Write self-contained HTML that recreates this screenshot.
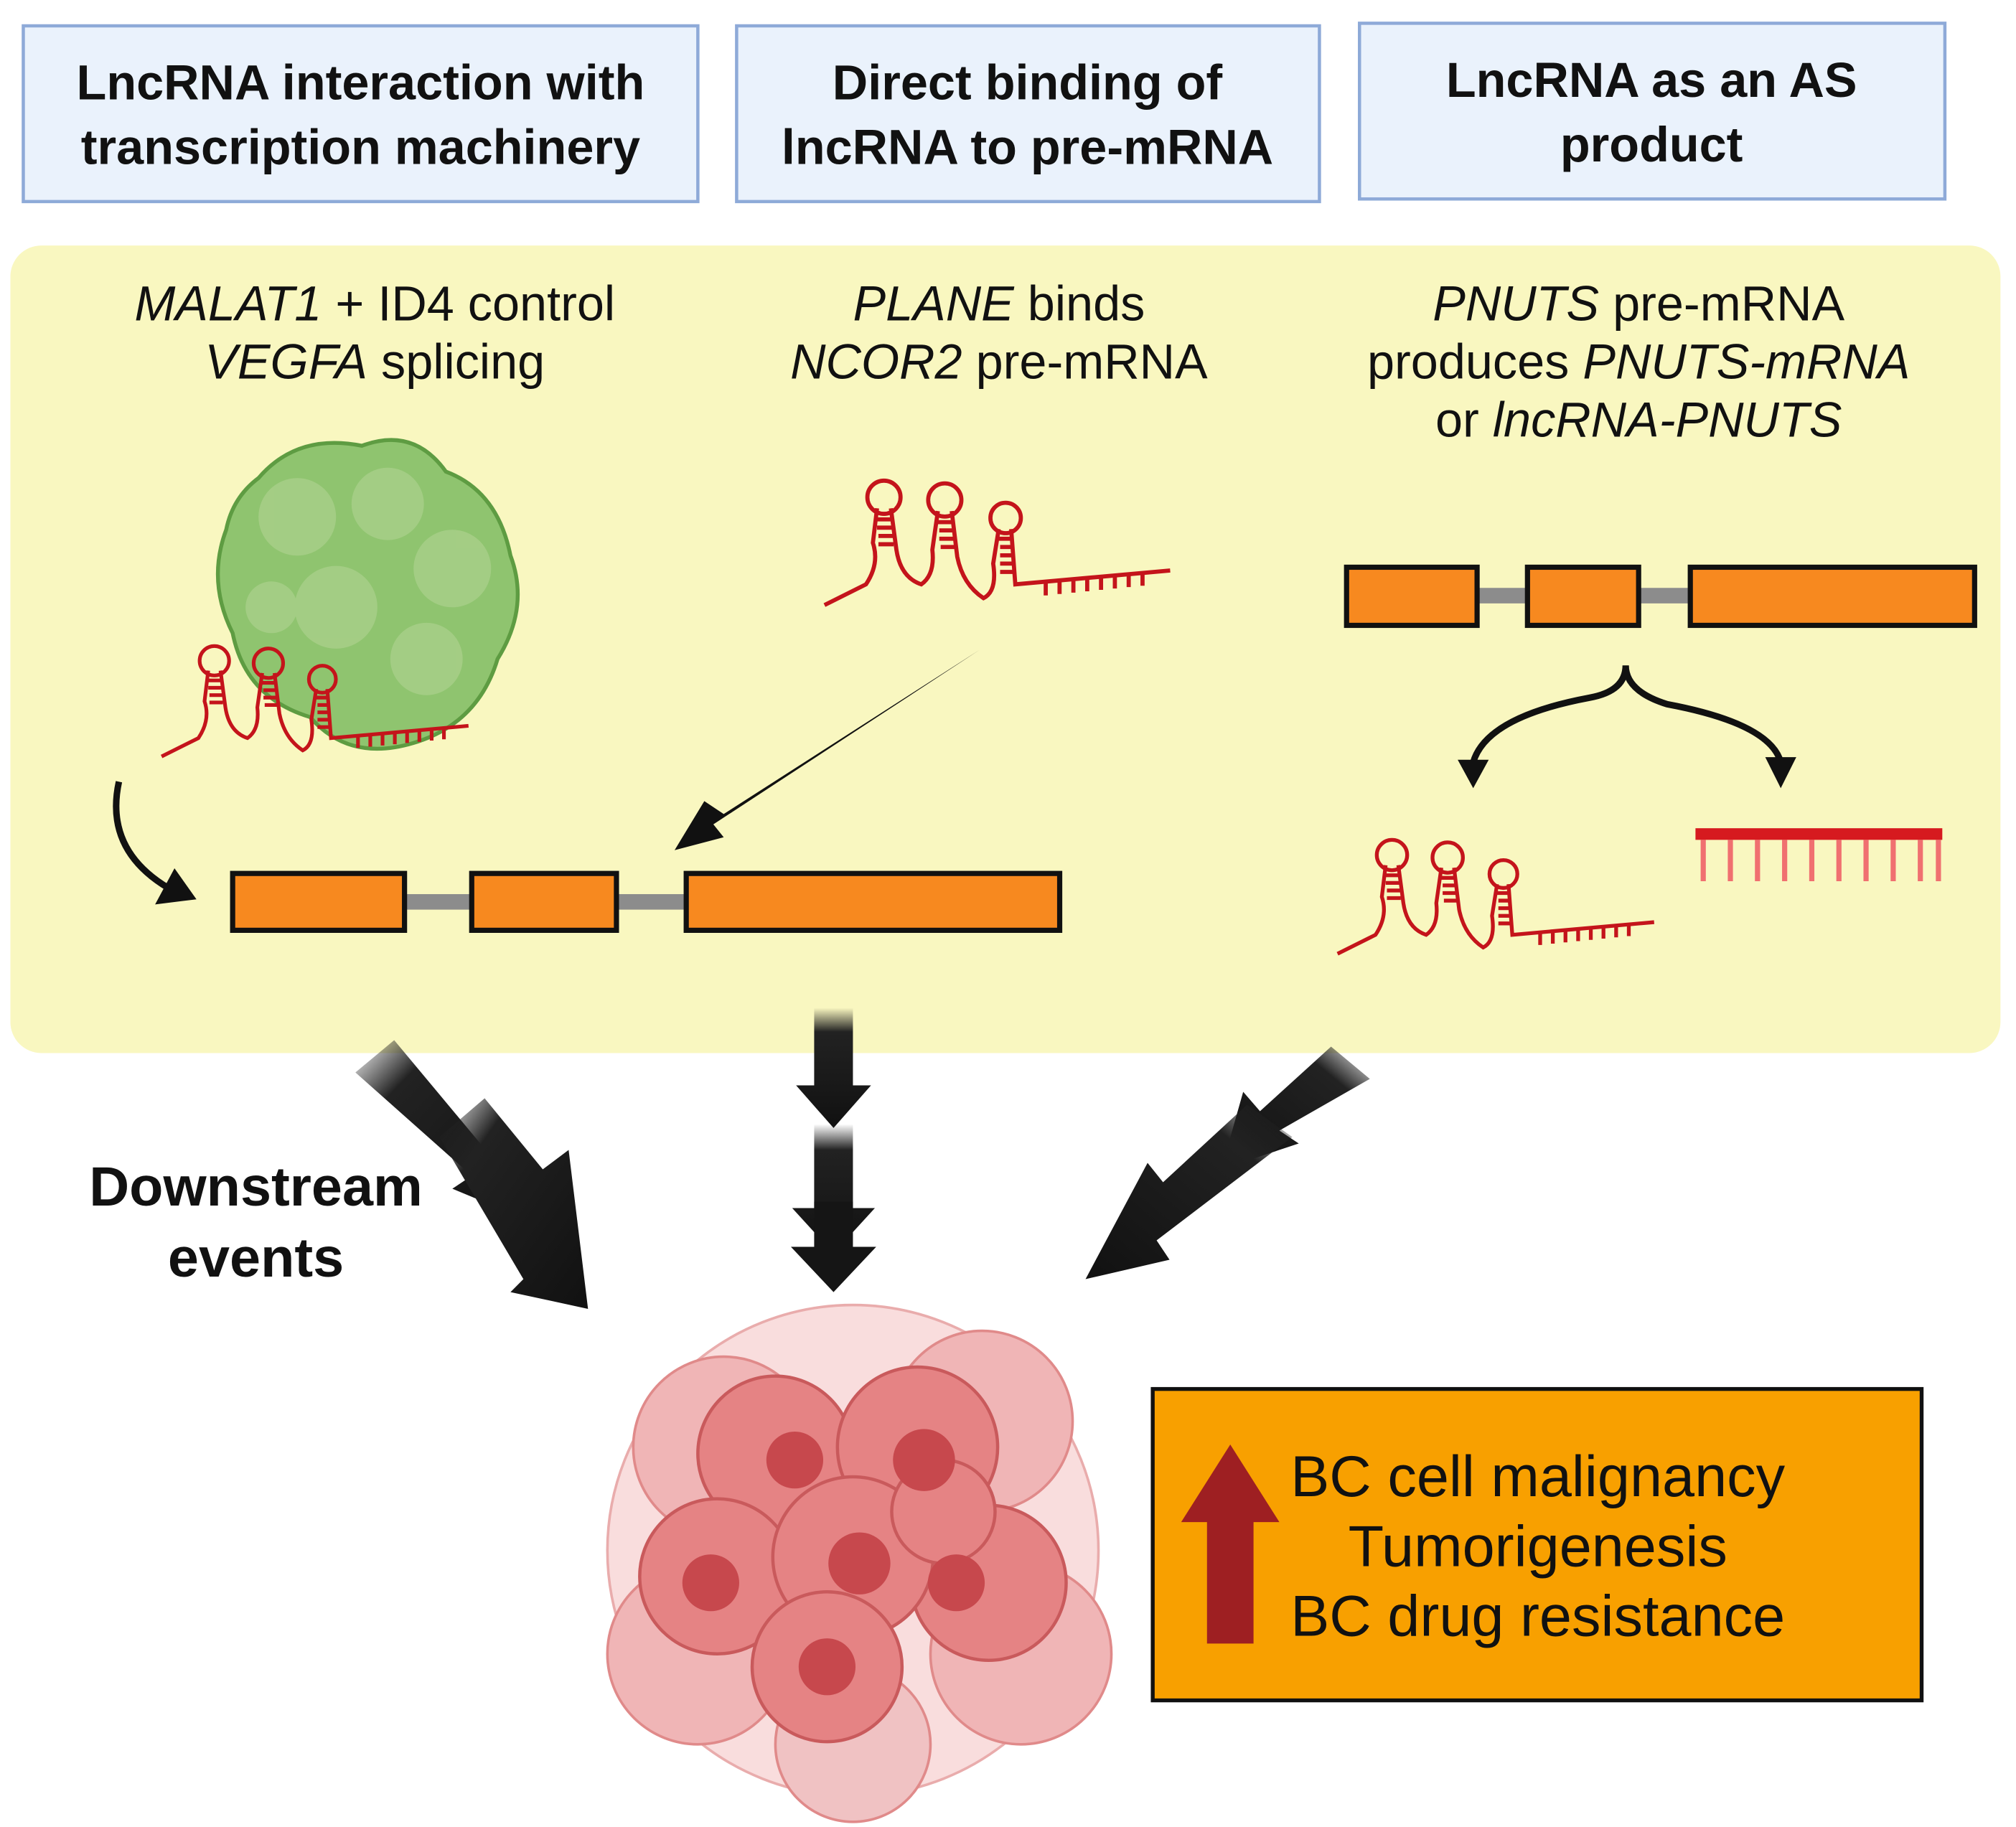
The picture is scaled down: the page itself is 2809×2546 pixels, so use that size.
<!DOCTYPE html>
<html><head><meta charset="utf-8"><style>
html,body{margin:0;padding:0;background:#fff}
svg{display:block}
text{font-family:"Liberation Sans",sans-serif}
</style></head><body>
<svg width="2809" height="2546" viewBox="0 0 1560 1414" xmlns="http://www.w3.org/2000/svg">
<defs>
<linearGradient id="gL" x1="0" y1="0" x2="1" y2="1"><stop offset="0" stop-color="#222" stop-opacity="0"/><stop offset="0.25" stop-color="#222"/><stop offset="1" stop-color="#111"/></linearGradient>
<linearGradient id="gM" x1="0" y1="0" x2="0" y2="1"><stop offset="0" stop-color="#222" stop-opacity="0"/><stop offset="0.2" stop-color="#222"/><stop offset="1" stop-color="#111"/></linearGradient>
<linearGradient id="gR" x1="1" y1="0" x2="0" y2="1"><stop offset="0" stop-color="#222" stop-opacity="0"/><stop offset="0.25" stop-color="#222"/><stop offset="1" stop-color="#111"/></linearGradient>
<g id="rna" fill="none" stroke="#c4141b" stroke-width="3">
<path d="M0,90 L30,75 Q40,60 35,45 L38,20 M48,20 L52,50 Q55,70 70,75 Q80,68 78,50 L82,22 M92,22 L96,55 Q100,75 115,85 Q125,80 122,60 L126,35 M135,35 L138,75 L250,65"/>
<circle cx="43" cy="12" r="12"/><circle cx="87" cy="14" r="12"/><circle cx="131" cy="27" r="11"/>
<path d="M38,28h10M38,34h11M39,40h11M39,46h11M82,30h11M83,36h11M83,42h11M84,48h11M126,42h10M127,48h10M127,54h10M127,60h10M127,66h10"/>
<path d="M160,73v10M170,72v10M180,71v10M190,70v10M200,69v10M210,68v10M220,67v10M230,66v10"/>
</g>
</defs>
<g stroke="#8eaad8" stroke-width="2.5" fill="#eaf2fc">
<rect x="18" y="20" width="522" height="136"/>
<rect x="570" y="20" width="451" height="136"/>
<rect x="1052" y="18" width="453" height="136"/>
</g>
<g font-weight="bold" font-size="38" text-anchor="middle" fill="#111">
<text x="279" y="77">LncRNA interaction with</text>
<text x="279" y="127">transcription machinery</text>
<text x="795" y="77">Direct binding of</text>
<text x="795" y="127">lncRNA to pre-mRNA</text>
<text x="1278" y="75">LncRNA as an AS</text>
<text x="1278" y="125">product</text>
</g>
<rect x="8" y="190" width="1540" height="625" rx="24" fill="#f9f7c0"/>
<g font-size="38" text-anchor="middle" fill="#111">
<text x="290" y="248"><tspan font-style="italic">MALAT1</tspan> + ID4 control</text>
<text x="290" y="293"><tspan font-style="italic">VEGFA</tspan> splicing</text>
<text x="773" y="248"><tspan font-style="italic">PLANE</tspan> binds</text>
<text x="773" y="293"><tspan font-style="italic">NCOR2</tspan> pre-mRNA</text>
<text x="1268" y="248"><tspan font-style="italic">PNUTS</tspan> pre-mRNA</text>
<text x="1268" y="293">produces <tspan font-style="italic">PNUTS-mRNA</tspan></text>
<text x="1268" y="338">or <tspan font-style="italic">lncRNA-PNUTS</tspan></text>
</g>
<path d="M200,370 Q230,335 280,345 Q320,330 345,365 Q385,380 395,430 Q410,470 385,510 Q370,560 320,575 Q270,590 240,555 Q190,540 180,490 Q160,450 175,410 Q180,385 200,370Z" fill="#8fc46f" stroke="#5e9c42" stroke-width="3"/>
<g fill="#a9d08a" opacity="0.8"><circle cx="230" cy="400" r="30"/><circle cx="300" cy="390" r="28"/><circle cx="350" cy="440" r="30"/><circle cx="260" cy="470" r="32"/><circle cx="330" cy="510" r="28"/><circle cx="210" cy="470" r="20"/></g>
<use href="#rna" transform="translate(125,500) scale(0.95)"/>
<use href="#rna" transform="translate(638,372) scale(1.07)"/>
<use href="#rna" transform="translate(1035,650) scale(0.98)"/>
<rect x="1312" y="641" width="191" height="9" fill="#d61a1f"/>
<g stroke="#f07070" stroke-width="4"><path d="M1318,650v32M1339,650v32M1360,650v32M1381,650v32M1402,650v32M1423,650v32M1444,650v32M1465,650v32M1486,650v32M1500,650v32"/></g>
<rect x="313" y="692" width="52" height="12" fill="#8c8c8c"/><rect x="477" y="692" width="54" height="12" fill="#8c8c8c"/>
<g fill="#f7891f" stroke="#111" stroke-width="4">
<rect x="180" y="676" width="133" height="44"/><rect x="365" y="676" width="112" height="44"/><rect x="531" y="676" width="289" height="44"/>
</g>
<rect x="1143" y="455" width="39" height="12" fill="#8c8c8c"/><rect x="1268" y="455" width="40" height="12" fill="#8c8c8c"/>
<g fill="#f7891f" stroke="#111" stroke-width="4">
<rect x="1042" y="439" width="101" height="45"/><rect x="1182" y="439" width="86" height="45"/><rect x="1308" y="439" width="220" height="45"/>
</g>
<path d="M92,605 Q80,660 135,690" fill="none" stroke="#111" stroke-width="5"/>
<polygon points="152,696 120,700 135,672" fill="#111"/>
<polygon points="758,503 560,630 545,620 522,658 560,648 552,638" fill="#111"/>
<path d="M1258,515 Q1258,535 1230,540 Q1150,555 1140,590 M1258,515 Q1258,535 1290,545 Q1370,560 1378,590" fill="none" stroke="#111" stroke-width="5"/>
<polygon points="1128,588 1152,588 1140,610" fill="#111"/><polygon points="1366,586 1390,586 1378,610" fill="#111"/>
<g>
<polygon points="275,830 305,805 380,895 395,880 410,945 350,920 365,910" fill="url(#gL)"/>
<polygon points="340,880 375,850 420,905 440,890 455,1013 395,1000 405,990" fill="url(#gL)"/>
<polygon points="630,780 660,780 660,840 674,840 645,873 616,840 630,840" fill="url(#gM)"/>
<polygon points="630,870 660,870 660,935 677,935 645,970 613,935 630,935" fill="url(#gM)"/>
<polygon points="630,930 660,930 660,965 678,965 645,1000 612,965 630,965" fill="#151515"/>
<polygon points="1060,835 1030,810 975,860 962,845 945,905 1005,885 990,875" fill="url(#gR)"/>
<polygon points="1000,880 965,855 900,915 888,900 840,990 905,975 895,960" fill="url(#gR)"/>
</g>
<g font-weight="bold" font-size="43" text-anchor="middle" fill="#111">
<text x="198" y="933">Downstream</text><text x="198" y="988">events</text>
</g>
<g stroke="#e08a8a" stroke-width="2">
<circle cx="660" cy="1200" r="190" fill="#f7cfd0" opacity="0.7"/>
<circle cx="560" cy="1120" r="70" fill="#f0b5b6"/><circle cx="760" cy="1100" r="70" fill="#f0b5b6"/>
<circle cx="540" cy="1280" r="70" fill="#f0b5b6"/><circle cx="790" cy="1280" r="70" fill="#f0b5b6"/>
<circle cx="660" cy="1350" r="60" fill="#f0c2c3"/>
</g>
<g fill="#e58384" stroke="#c95a5c" stroke-width="2.5">
<circle cx="600" cy="1125" r="60"/><circle cx="710" cy="1120" r="62"/><circle cx="555" cy="1220" r="60"/>
<circle cx="765" cy="1225" r="60"/><circle cx="660" cy="1205" r="62"/><circle cx="640" cy="1290" r="58"/>
<circle cx="730" cy="1170" r="40"/>
</g>
<g fill="#c7484d"><circle cx="615" cy="1130" r="22"/><circle cx="715" cy="1130" r="24"/><circle cx="550" cy="1225" r="22"/><circle cx="665" cy="1210" r="24"/><circle cx="740" cy="1225" r="22"/><circle cx="640" cy="1290" r="22"/></g>
<rect x="892" y="1075" width="595" height="241" fill="#f8a000" stroke="#111" stroke-width="3"/>
<polygon points="952,1118 990,1178 970,1178 970,1272 934,1272 934,1178 914,1178" fill="#9e1f22"/>
<g font-size="45" text-anchor="middle" fill="#111">
<text x="1190" y="1158">BC cell malignancy</text><text x="1190" y="1212">Tumorigenesis</text><text x="1190" y="1266">BC drug resistance</text>
</g>
</svg>
</body></html>
